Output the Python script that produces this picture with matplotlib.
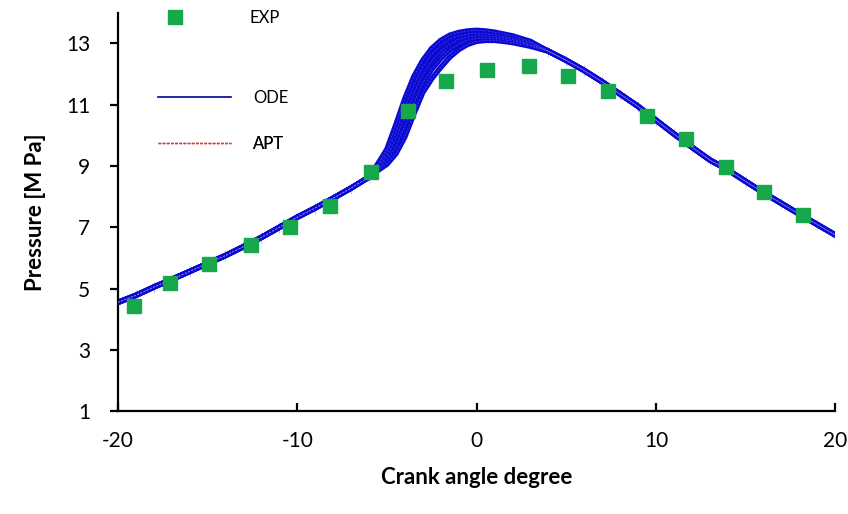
import numpy as np
import matplotlib.pyplot as plt
from matplotlib.lines import Line2D

plt.rcParams['font.family'] = ['Lato', 'DejaVu Sans']
plt.rcParams['axes.unicode_minus'] = False

# measured cylinder pressure
exp_angle = [-19.1, -17.1, -14.9, -12.6, -10.4, -8.2, -5.9, -3.8, -1.7,
             0.6, 2.9, 5.1, 7.3, 9.5, 11.7, 13.9, 16.0, 18.2]
exp_press = [4.44, 5.20, 5.79, 6.44, 7.00, 7.69, 8.80, 10.80, 11.79,
             12.15, 12.28, 11.95, 11.46, 10.64, 9.89, 8.97, 8.15, 7.39]

# compression stroke, common to all simulated cases
pre_angle = [-20, -19, -18, -17, -16, -15, -14, -13, -12, -11, -10, -9, -8, -7, -6]
pre_press = [4.55, 4.78, 5.05, 5.30, 5.56, 5.82, 6.08, 6.37, 6.67, 7.00,
             7.33, 7.63, 7.95, 8.28, 8.64]

# combustion window, one row per simulated case
comb_angle = [-5.5, -5.0, -4.5, -4.0, -3.5, -3.0, -2.5, -2.0, -1.5, -1.0,
              -0.5, 0.0, 0.5, 1.0, 1.5, 2.0, 3.0]
comb_press = [
    [9.08, 9.55, 10.35, 11.20, 11.92, 12.45, 12.84, 13.10, 13.27, 13.36, 13.41, 13.43, 13.41, 13.37, 13.31, 13.25, 13.07],
    [9.02, 9.42, 10.10, 10.90, 11.65, 12.24, 12.65, 12.94, 13.14, 13.25, 13.31, 13.33, 13.32, 13.29, 13.23, 13.18, 13.02],
    [8.96, 9.30, 9.88, 10.62, 11.38, 11.98, 12.42, 12.76, 12.98, 13.13, 13.21, 13.25, 13.25, 13.23, 13.18, 13.13, 12.98],
    [8.91, 9.17, 9.62, 10.30, 11.06, 11.71, 12.16, 12.51, 12.79, 12.98, 13.11, 13.17, 13.18, 13.17, 13.13, 13.08, 12.95],
    [8.86, 9.06, 9.40, 9.95, 10.70, 11.40, 11.85, 12.22, 12.55, 12.80, 12.97, 13.07, 13.10, 13.10, 13.07, 13.03, 12.91],
]

# expansion stroke, common to all simulated cases
post_angle = [4, 5, 6, 7, 8, 9, 10, 11, 12, 13, 14, 15, 16, 17, 18, 19, 20]
post_press = [12.75, 12.45, 12.12, 11.75, 11.35, 10.95, 10.50,
              10.05, 9.62, 9.20, 8.88, 8.50, 8.13, 7.78, 7.43, 7.09, 6.75]

apt_err = 0.18

fig = plt.figure(figsize=(8.48, 5.14), dpi=100)
ax = fig.add_axes([0.139, 0.200, 0.846, 0.775])

angle = pre_angle + comb_angle + post_angle
for row in comb_press:
    p = pre_press + row + post_press
    ax.plot(angle, p, color='#0a0ad2', lw=3.9, solid_capstyle='round',
            solid_joinstyle='round', zorder=2)
for row in comb_press:
    p = pre_press + row + post_press
    ax.plot(angle, p, color='#9a8cf0', lw=0.5, ls=(0, (3, 2)), alpha=0.45, zorder=3)

mid = pre_press + comb_press[2] + post_press
ax.errorbar(angle, mid, yerr=apt_err, fmt='none', ecolor='#b9a6e6',
            elinewidth=0.8, alpha=0.7, zorder=1)

ax.plot(exp_angle, exp_press, ls='none', marker='s', ms=9.5,
        color='#16a84a', mec='#16a84a', zorder=4)

ax.set_xlim(-20, 20)
ax.set_ylim(1, 14)
ax.set_xticks([-20, -10, 0, 10, 20])
ax.set_yticks([1, 3, 5, 7, 9, 11, 13])
for s in ['top', 'right']:
    ax.spines[s].set_visible(False)
for s in ['left', 'bottom']:
    ax.spines[s].set_linewidth(1.6)
ax.tick_params(axis='x', direction='in', length=6, width=1.6, pad=14, labelsize=15)
ax.tick_params(axis='y', direction='out', length=6, width=1.6, pad=14, labelsize=15)

ax.set_xlabel('Crank angle degree', fontsize=16, fontweight='bold', labelpad=12)
ax.set_ylabel('Pressure [M Pa]', fontsize=16, fontweight='bold', labelpad=14)

# legend entries stacked with Excel-like uneven spacing
entries = [
    (Line2D([], [], ls='none', marker='s', ms=10, color='#16a84a'), 'EXP', 1.045, 2.0, 3.5),
    (Line2D([], [], color='#000090', lw=1.2), 'ODE', 0.845, 4.4, 1.3),
    (Line2D([], [], color='#e03030', lw=1.0, ls=(0, (2, 1))), 'APT', 0.728, 4.4, 1.3),
]
for h, lab, yy, hl, pad in entries:
    leg = ax.legend([h], [lab], loc='upper left', bbox_to_anchor=(0.035, yy),
                    frameon=False, fontsize=12, handlelength=hl, handletextpad=pad)
    ax.add_artist(leg)

fig.savefig('out.png', dpi=100)
